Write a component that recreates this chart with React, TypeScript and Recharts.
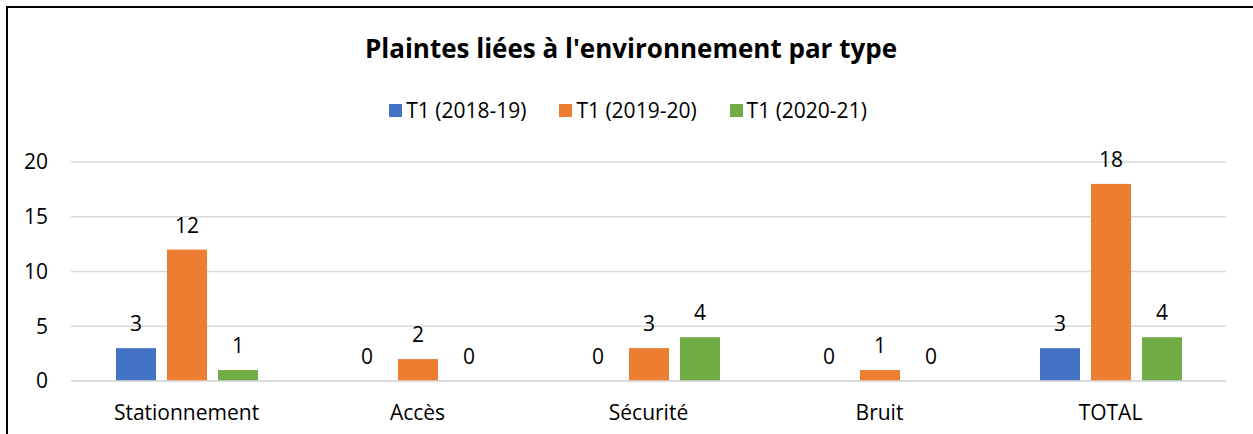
import React from 'react';
import { BarChart, Bar, XAxis, YAxis, CartesianGrid, LabelList } from 'recharts';

const categories = ['Stationnement', 'Accès', 'Sécurité', 'Bruit', 'TOTAL'];
const t1_2018_19 = [3, 0, 0, 0, 3];
const t1_2019_20 = [12, 2, 3, 1, 18];
const t1_2020_21 = [1, 0, 4, 0, 4];
const seriesKeys = ['s1', 's2', 's3'];
const seriesNames = ['T1 (2018-19)', 'T1 (2019-20)', 'T1 (2020-21)'];
const seriesColors = ['#4472C4', '#ED7D31', '#70AD47'];
const yTicks = [0, 5, 10, 15, 20];
const title = "Plaintes liées à l'environnement par type";

const data = categories.map((name, i) => ({
  name,
  s1: t1_2018_19[i],
  s2: t1_2019_20[i],
  s3: t1_2020_21[i],
}));

const FONT = "'Open Sans', 'Noto Sans', sans-serif";
const FS = 21;

const makeLabel = (key: string) => (props: any) => {
  const { x, y, width, height, index } = props;
  const v = data[index] ? (data[index] as any)[key] : props.value;
  const top = v === 0 ? Number(y) + Number(height) : Number(y);
  return (
    <text x={Number(x) + Number(width) / 2} y={top - 17} textAnchor="middle" fill="#000" fontFamily={FONT} fontSize={FS}>
      {String(v)}
    </text>
  );
};

const makeShape = (key: string) => (props: any) => {
  const { x, y, width, height, fill, payload } = props;
  const v = payload ? payload[key] : 0;
  if (!v) return <g />;
  return <rect x={x} y={y} width={width} height={height} fill={fill} />;
};

export default function App() {
  return (
    <div style={{ position: 'absolute', left: 0, top: 0, width: 1253, height: 434, background: '#fff', overflow: 'hidden' }}>
      <div style={{ position: 'absolute', left: 6, top: 6, width: 1300, height: 500, borderTop: '2px solid #000', borderLeft: '2px solid #000' }} />
      <div style={{ position: 'absolute', left: 0, top: 29, width: 1262, textAlign: 'center', fontFamily: FONT, fontWeight: 700, fontSize: 26, color: '#000', lineHeight: '38px' }}>
        {title}
      </div>
      <div style={{ position: 'absolute', left: 0, top: 96, width: 1256, display: 'flex', justifyContent: 'center', alignItems: 'center', fontFamily: FONT, fontSize: FS, color: '#000', lineHeight: '28px' }}>
        {seriesNames.map((n, i) => (
          <div key={n} style={{ display: 'flex', alignItems: 'center', marginRight: i < 2 ? 33 : 0 }}>
            <div style={{ width: 13, height: 13, background: seriesColors[i], marginRight: 4 }} />
            <span>{n}</span>
          </div>
        ))}
      </div>
      <div style={{ position: 'absolute', left: 0, top: 0 }}>
        <BarChart width={1253} height={434} data={data} margin={{ top: 162, right: 27, bottom: 23, left: 0 }} barGap={11} barSize={40}>
          <CartesianGrid vertical={false} stroke="#D9D9D9" strokeWidth={1.5} />
          <XAxis dataKey="name" height={30} tickLine={false} axisLine={{ stroke: '#D9D9D9', strokeWidth: 1.5 }} tickSize={0} tickMargin={24} tick={{ fill: '#000', fontFamily: FONT, fontSize: FS }} interval={0} />
          <YAxis width={71} domain={[0, 20]} ticks={yTicks} tickLine={false} axisLine={false} tickSize={0} tickMargin={23} tick={{ fill: '#000', fontFamily: FONT, fontSize: FS }} />
          {seriesKeys.map((k, i) => (
            <Bar key={k} dataKey={k} name={seriesNames[i]} fill={seriesColors[i]} isAnimationActive={false} minPointSize={1} shape={makeShape(k)}>
              <LabelList dataKey={k} content={makeLabel(k)} />
            </Bar>
          ))}
        </BarChart>
      </div>
    </div>
  );
}
